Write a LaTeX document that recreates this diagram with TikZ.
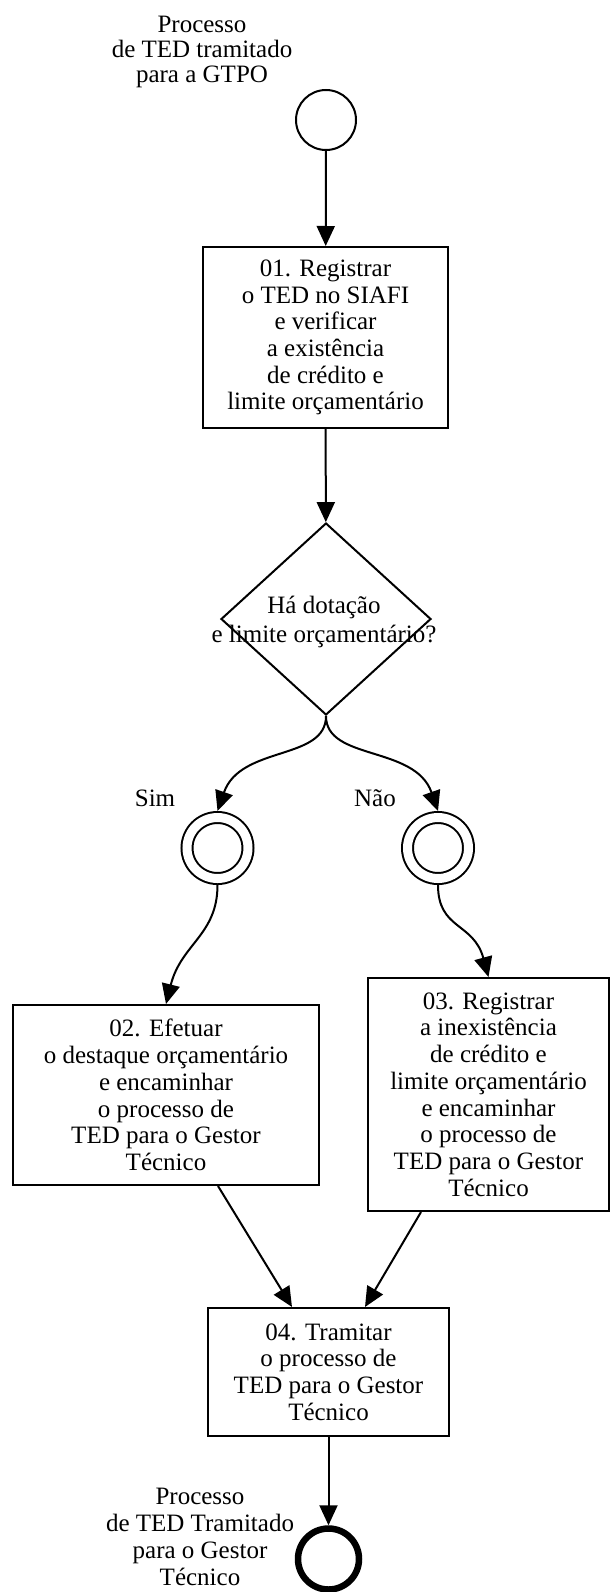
\documentclass[tikz,border=0pt]{standalone}
\usepackage{fontspec}
\setmainfont{Liberation Serif}
\usetikzlibrary{shapes.geometric,arrows.meta}
\begin{document}
\begin{tikzpicture}[x=1pt,y=-1pt,
  txt/.style={font=\fontsize{25}{26.7}\selectfont, align=center, inner sep=0pt},
  taskbox/.style={draw, line width=2pt, rectangle, inner sep=0pt, font=\fontsize{25}{26.7}\selectfont, align=center},
  conn/.style={line width=2pt, -{Triangle[length=20pt,width=18pt]}},
  startev/.style={circle, draw, line width=2pt, minimum size=60pt, inner sep=0pt},
  inter/.style={circle, draw, line width=2pt, double, double distance=9pt, minimum size=61pt, inner sep=0pt, outer sep=6.5pt},
  endev/.style={circle, draw, line width=6.5pt, minimum size=61pt, inner sep=0pt},
  decision/.style={draw, diamond, line width=2pt, minimum width=210pt, minimum height=192pt, inner sep=0pt}
]
\useasboundingbox (0,0) rectangle (610,1592);

\node[startev] (start) at (326,120) {};
\node[txt, font=\fontsize{25}{25}\selectfont] (startlbl) at (202,52) {Processo\\de TED tramitado\\para a GTPO};

\node[taskbox, minimum width=245pt, minimum height=181pt] (t1) at (325.5,337.5) {01. Registrar\\o TED no SIAFI\\e verificar\\a existência\\de crédito e\\limite orçamentário};

\node[decision] (dec) at (326,619) {};
\node[txt, font=\fontsize{25}{29}\selectfont] (dectxt) at (324,622) {Há dotação\\e limite orçamentário?};

\node[inter] (sim) at (217.5,848) {};
\node[inter] (nao) at (438,848) {};
\node[txt] (simlbl) at (155,798) {Sim};
\node[txt] (naolbl) at (375,798) {Não};

\node[taskbox, minimum width=306pt, minimum height=180pt] (t2) at (166,1095) {02. Efetuar\\o destaque orçamentário\\e encaminhar\\o processo de\\TED para o Gestor\\Técnico};
\node[taskbox, minimum width=241pt, minimum height=233pt] (t3) at (488.5,1094.5) {03. Registrar\\a inexistência\\de crédito e\\limite orçamentário\\e encaminhar\\o processo de\\TED para o Gestor\\Técnico};
\node[taskbox, minimum width=241pt, minimum height=128pt] (t4) at (328.5,1372) {04. Tramitar\\o processo de\\TED para o Gestor\\Técnico};

\node[endev] (end) at (328.5,1559) {};
\node[txt, font=\fontsize{25}{27}\selectfont] (endlbl) at (200,1537) {Processo\\de TED Tramitado\\para o Gestor\\Técnico};

\draw[conn] (start) -- (t1);
\draw[conn] (t1) -- (dec);
\draw[conn] (dec.south) .. controls +(0,45) and +(23,-66) .. (sim.north);
\draw[conn] (dec.south) .. controls +(0,45) and +(-23,-66) .. (nao.north);
\draw[conn] (sim.south) .. controls +(0,50) and +(15,-60) .. (t2.north);
\draw[conn] (nao.south) .. controls +(0,45) and +(-15,-55) .. (t3.north);
\draw[conn] ([xshift=52pt]t2.south) -- ([xshift=-36.5pt]t4.north);
\draw[conn] ([xshift=-67.5pt]t3.south) -- ([xshift=36.5pt]t4.north);
\draw[conn] (t4) -- (end);
\end{tikzpicture}
\end{document}
